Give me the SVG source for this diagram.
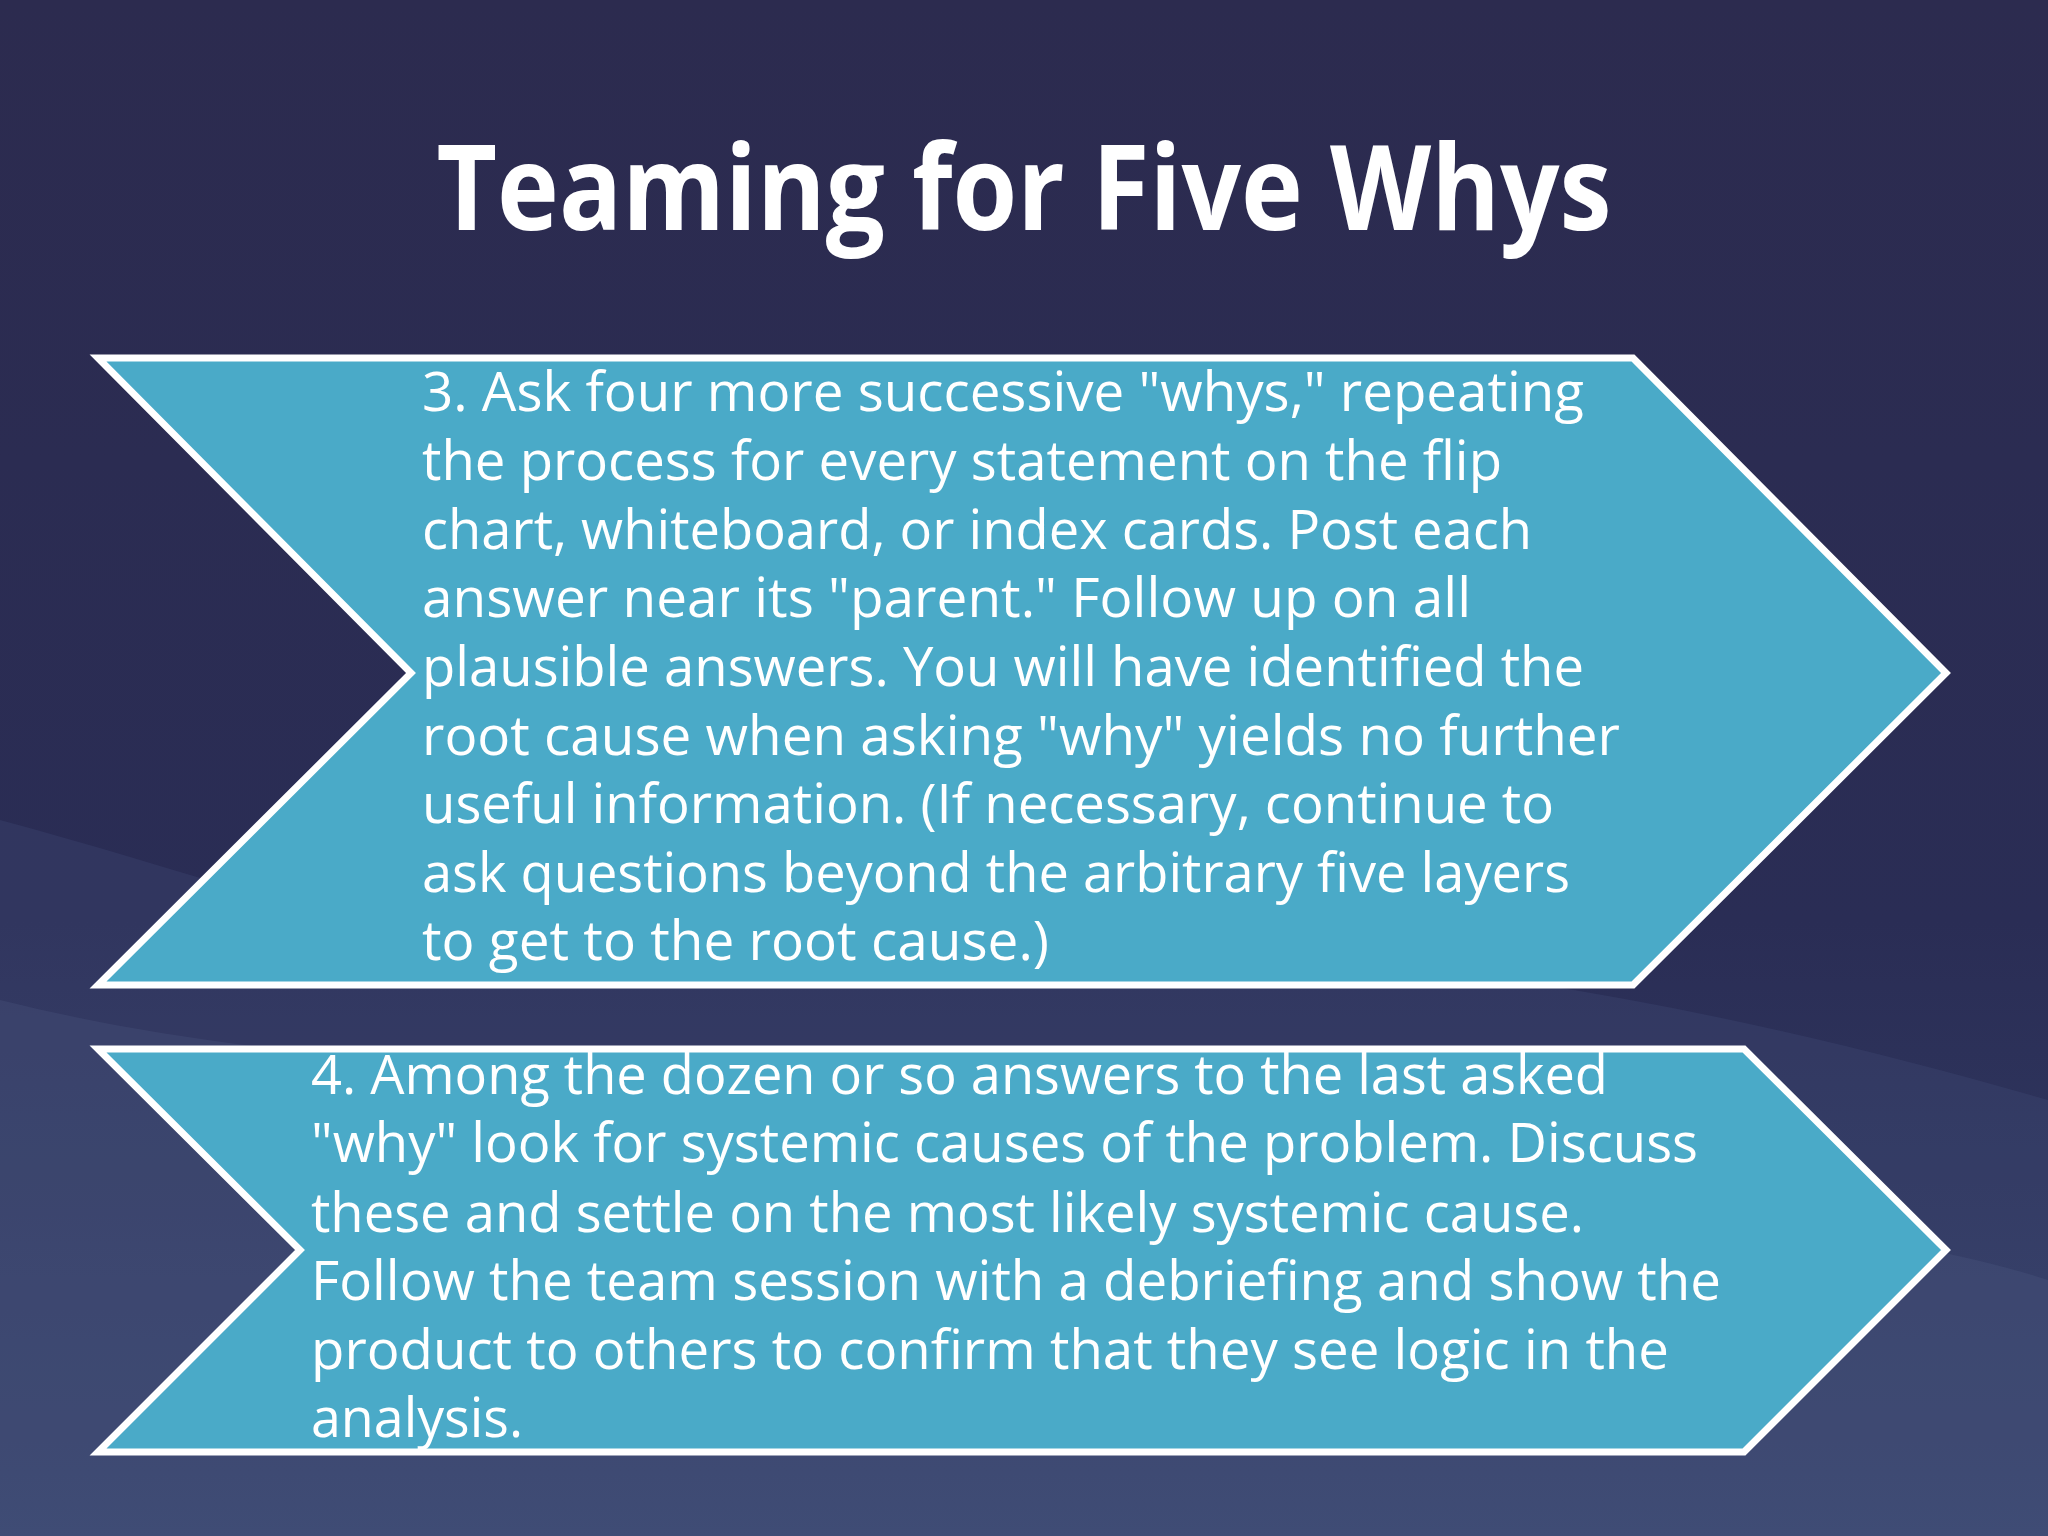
<svg xmlns="http://www.w3.org/2000/svg" width="2048" height="1536" viewBox="0 0 2048 1536">
<defs>
<linearGradient id="bg" x1="0" y1="0" x2="0" y2="1">
<stop offset="0" stop-color="#2c2b4f"/><stop offset="0.6" stop-color="#2a2d55"/><stop offset="1" stop-color="#344068"/>
</linearGradient>
<style>
.chev{fill:#4aaac8;stroke:#ffffff;stroke-width:7;stroke-linejoin:miter}
.t{font-family:"Open Sans","Liberation Sans",sans-serif;font-size:54px;fill:#ffffff}
.title{font-family:"Open Sans","Liberation Sans",sans-serif;font-size:118px;font-weight:bold;fill:#ffffff}
</style>
</defs>
<rect width="2048" height="1536" fill="url(#bg)"/>
<path d="M0 820 C300 900 500 1000 900 960 C1300 920 1700 1000 2048 1100 L2048 1536 L0 1536Z" fill="#46557f" opacity="0.25"/>
<path d="M0 1000 C400 1100 800 1050 1200 1150 C1600 1250 1800 1200 2048 1280 L2048 1536 L0 1536Z" fill="#5a6a93" opacity="0.2"/>
<text class="title" x="1024" y="230" text-anchor="middle" textLength="1175" lengthAdjust="spacingAndGlyphs">Teaming for Five Whys</text>
<g id="node1">
<polygon class="chev" points="98,358 1633,358 1946,673 1633,985 98,985 411,673"/>
<text class="t" x="422" y="411" textLength="1162" lengthAdjust="spacingAndGlyphs">3. Ask four more successive "whys," repeating</text>
<text class="t" x="422" y="480" textLength="1080" lengthAdjust="spacingAndGlyphs">the process for every statement on the flip</text>
<text class="t" x="422" y="549" textLength="1110" lengthAdjust="spacingAndGlyphs">chart, whiteboard, or index cards. Post each</text>
<text class="t" x="422" y="617" textLength="1049" lengthAdjust="spacingAndGlyphs">answer near its "parent." Follow up on all</text>
<text class="t" x="422" y="686" textLength="1162" lengthAdjust="spacingAndGlyphs">plausible answers. You will have identified the</text>
<text class="t" x="422" y="755" textLength="1198" lengthAdjust="spacingAndGlyphs">root cause when asking "why" yields no further</text>
<text class="t" x="422" y="823" textLength="1132" lengthAdjust="spacingAndGlyphs">useful information. (If necessary, continue to</text>
<text class="t" x="422" y="892" textLength="1148" lengthAdjust="spacingAndGlyphs">ask questions beyond the arbitrary five layers</text>
<text class="t" x="422" y="960" textLength="627" lengthAdjust="spacingAndGlyphs">to get to the root cause.)</text>
</g>
<g id="node2">
<polygon class="chev" points="98,1049 1744,1049 1946,1250 1744,1452 98,1452 300,1250"/>
<text class="t" x="311" y="1094" textLength="1297" lengthAdjust="spacingAndGlyphs">4. Among the dozen or so answers to the last asked</text>
<text class="t" x="311" y="1162" textLength="1387" lengthAdjust="spacingAndGlyphs">"why" look for systemic causes of the problem. Discuss</text>
<text class="t" x="311" y="1232" textLength="1273" lengthAdjust="spacingAndGlyphs">these and settle on the most likely systemic cause.</text>
<text class="t" x="311" y="1300" textLength="1410" lengthAdjust="spacingAndGlyphs">Follow the team session with a debriefing and show the</text>
<text class="t" x="311" y="1369" textLength="1358" lengthAdjust="spacingAndGlyphs">product to others to confirm that they see logic in the</text>
<text class="t" x="311" y="1437" textLength="212" lengthAdjust="spacingAndGlyphs">analysis.</text>
</g>
<g id="connectors"/>
</svg>
